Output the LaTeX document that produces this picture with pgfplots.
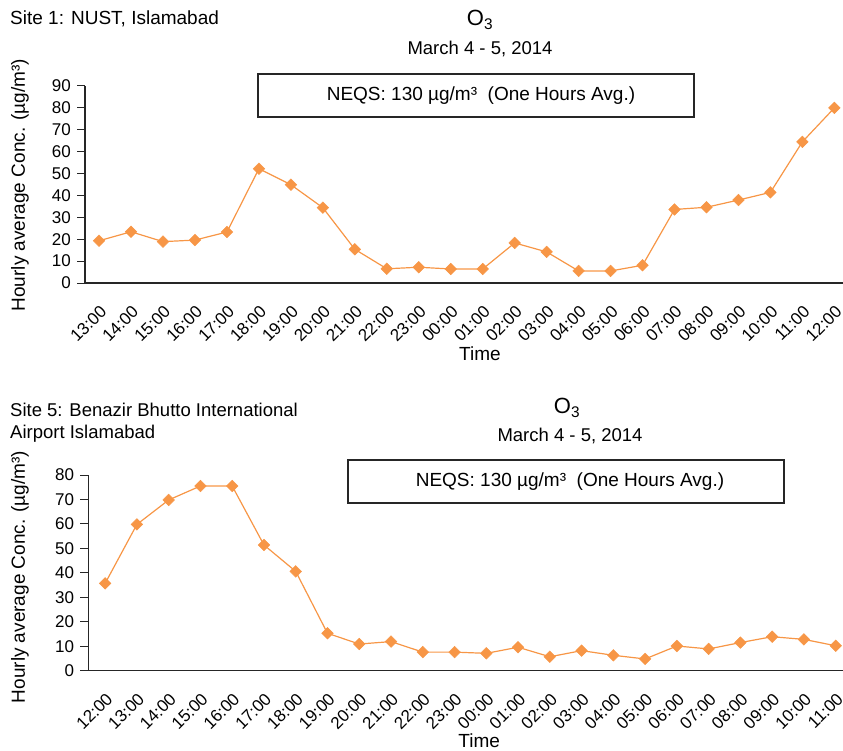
\documentclass[border=0pt]{standalone}
\usepackage{fontspec}
\setmainfont{Liberation Sans}
\usepackage{pgfplots}
\pgfplotsset{compat=1.18}
\definecolor{ozone}{RGB}{247,150,70}
\newcommand{\fs}[1]{\fontsize{#1}{#1}\selectfont}
\pgfplotsset{
  o3axis/.style={
    anchor=south west, scale only axis,
    axis lines=left, axis line style={-, line width=1.3pt, black!85},
    ymin=0, clip=false,
    xtick={0,...,23}, xtick style={draw=none},
    ytick distance=10,
    ytick style={line width=1pt, black!85},
    tick align=outside, major tick length=8pt,
    /pgf/number format/assume math mode=true,
    tick label style={font=\fs{17}},
    yticklabel style={inner sep=0pt, anchor=east, xshift=-6pt},
    xticklabel shift=13pt,
    xticklabel style={inner sep=0pt, rotate=45, anchor=north east},
    label style={font=\fs{19}},
  },
  o3line/.style={color=ozone, line width=1.2pt, mark=square*, mark size=4.1pt,
    mark options={rotate=45, fill=ozone, draw=ozone, line width=0.5pt}},
}
\begin{document}
\begin{tikzpicture}[x=1pt,y=1pt]
% ---------- top chart ----------
\begin{axis}[o3axis,
  at={(85pt,-283pt)}, width=758pt, height=197pt,
  xmin=-0.44, xmax=23.27, ymax=90,
  xticklabels={13:00,14:00,15:00,16:00,17:00,18:00,19:00,20:00,21:00,22:00,23:00,00:00,01:00,02:00,03:00,04:00,05:00,06:00,07:00,08:00,09:00,10:00,11:00,12:00},
  xlabel={Time}, xlabel style={at={(axis description cs:0.521,-0.36)}, anchor=center},
  ylabel={Hourly average Conc. (µg/m³)}, ylabel style={at={(axis description cs:-0.0858,0.497)}, anchor=center, rotate=0},
]
\addplot[o3line] coordinates {
(0,19.3) (1,23.4) (2,18.9) (3,19.6) (4,23.3) (5,52.2) (6,44.9) (7,34.4)
(8,15.4) (9,6.5) (10,7.2) (11,6.4) (12,6.4) (13,18.3) (14,14.2) (15,5.5)
(16,5.5) (17,8.1) (18,33.6) (19,34.6) (20,37.9) (21,41.4) (22,64.5) (23,80.0)};
\end{axis}
% ---------- bottom chart ----------
\begin{axis}[o3axis,
  at={(88.3pt,-670.7pt)}, width=754.7pt, height=195.7pt,
  xmin=-0.53, xmax=23.23, ymax=80,
  xticklabels={12:00,13:00,14:00,15:00,16:00,17:00,18:00,19:00,20:00,21:00,22:00,23:00,00:00,01:00,02:00,03:00,04:00,05:00,06:00,07:00,08:00,09:00,10:00,11:00},
  xlabel={Time}, xlabel style={at={(axis description cs:0.518,-0.356)}, anchor=center},
  ylabel={Hourly average Conc. (µg/m³)}, ylabel style={at={(axis description cs:-0.0905,0.479)}, anchor=center, rotate=0},
]
\addplot[o3line] coordinates {
(0,35.7) (1,59.8) (2,69.8) (3,75.5) (4,75.5) (5,51.4) (6,40.6) (7,15.3)
(8,10.9) (9,11.9) (10,7.6) (11,7.6) (12,7.1) (13,9.6) (14,5.7) (15,8.2)
(16,6.3) (17,4.8) (18,10.1) (19,8.9) (20,11.5) (21,13.9) (22,12.8) (23,10.2)};
\end{axis}
% ---------- titles and boxes ----------
\node[anchor=base west, inner sep=0pt, font=\fs{19}] at (10pt,-25pt) {Site 1: NUST, Islamabad};
\node[anchor=center, inner sep=0pt, font=\fs{22}] at (480pt,-20pt) {O\textsubscript{3}};
\node[anchor=center, inner sep=0pt, font=\fs{18.5}] at (480pt,-49pt) {March 4 - 5, 2014};
\draw[line width=1.2pt, black!85] (258pt,-74pt) rectangle (694pt,-117pt);
\node[anchor=center, inner sep=0pt, font=\fs{19}] at (481pt,-96pt) {NEQS: 130 µg/m³\ \ (One Hours Avg.)};

\node[anchor=base west, inner sep=0pt, font=\fs{18.5}] at (10pt,-416pt) {Site 5: Benazir Bhutto International};
\node[anchor=base west, inner sep=0pt, font=\fs{18.5}] at (10pt,-438pt) {Airport Islamabad};
\node[anchor=center, inner sep=0pt, font=\fs{22}] at (567pt,-408pt) {O\textsubscript{3}};
\node[anchor=center, inner sep=0pt, font=\fs{18.5}] at (570pt,-436pt) {March 4 - 5, 2014};
\draw[line width=1.2pt, black!85] (348pt,-460pt) rectangle (784pt,-503pt);
\node[anchor=center, inner sep=0pt, font=\fs{19}] at (570pt,-482pt) {NEQS: 130 µg/m³\ \ (One Hours Avg.)};

\pgfresetboundingbox
\path (0pt,0pt) rectangle (843pt,-751pt);
\end{tikzpicture}
\end{document}
